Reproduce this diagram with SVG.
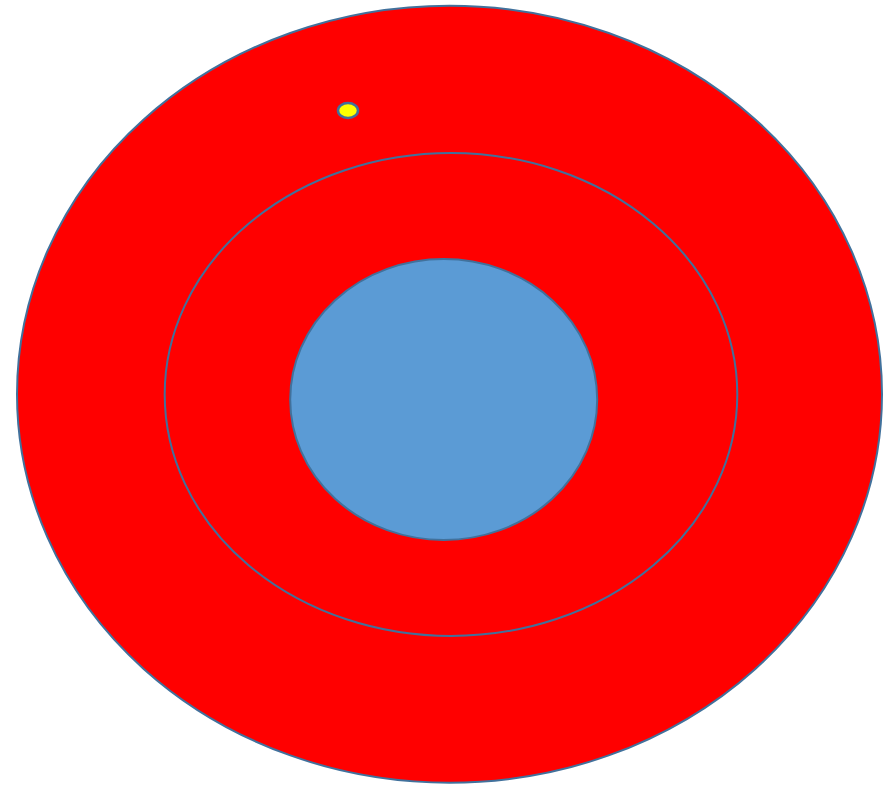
<svg xmlns="http://www.w3.org/2000/svg" width="884" height="786" viewBox="0 0 884 786">
<style>
.ring{fill:#FF0000;stroke:#41719C;stroke-width:2}
.core{fill:#5B9BD5;stroke:#41719C;stroke-width:2}
.dot{fill:#FFFF00;stroke:#41719C;stroke-width:2.5}
</style>
<rect width="884" height="786" fill="#FFFFFF"/>
<g id="outer"><ellipse class="ring" cx="449.5" cy="394.2" rx="432.5" ry="388.5"/></g>
<g id="middle"><ellipse class="ring" cx="451" cy="394.5" rx="286.3" ry="241.5"/></g>
<g id="inner"><ellipse class="core" cx="443.7" cy="399.5" rx="153.5" ry="140.5"/></g>
<g id="dot"><ellipse class="dot" cx="348" cy="110.5" rx="10" ry="7.5"/></g>
<g id="connectors"/>
</svg>
